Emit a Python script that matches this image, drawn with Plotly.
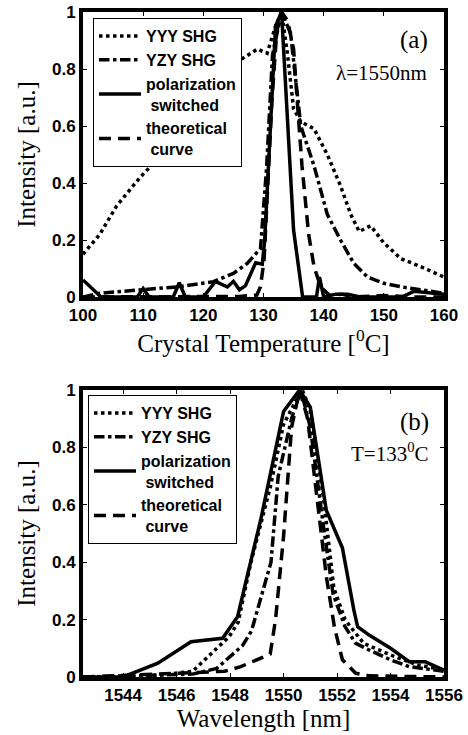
import plotly.graph_objects as go

# ---------------- panel (a): temperature tuning ----------------
t_yyy = [100, 102.8, 105.6, 109.5, 114, 119.5, 126, 129, 130.6, 132, 133, 134, 135, 136.2, 138.4, 140.6, 142.8, 144.5, 145.9, 147.8, 150, 152.8, 156.2, 160]
i_yyy = [0.15, 0.22, 0.32, 0.42, 0.52, 0.66, 0.83, 0.87, 0.855, 0.95, 1.0, 0.85, 0.66, 0.615, 0.59, 0.50, 0.39, 0.29, 0.23, 0.25, 0.19, 0.135, 0.106, 0.07]

t_yzy = [100, 102.8, 109.5, 116, 121.7, 125, 127.3, 129.5, 130.5, 131.5, 133, 134.5, 136.2, 138.4, 140.6, 142.8, 145, 147.3, 150, 152.8, 156.2, 160]
i_yzy = [0.0, 0.013, 0.025, 0.036, 0.054, 0.083, 0.118, 0.17, 0.45, 0.85, 1.0, 0.925, 0.6, 0.46, 0.29, 0.2, 0.118, 0.07, 0.048, 0.036, 0.025, 0.013]

t_pol = [100, 103, 109, 110, 111, 115, 116, 117, 120, 122, 124, 125, 126, 127, 128.7, 129.8, 130.2, 131, 132, 133, 134.2, 135, 136.5, 138.8, 139.3, 140, 142, 144, 146, 153, 155, 160]
i_pol = [0.06, 0, 0, 0.03, 0, 0, 0.05, 0, 0, 0.055, 0.035, 0.055, 0.025, 0.04, 0.12, 0.115, 0.2, 0.55, 0.95, 1.0, 0.55, 0.235, 0, 0, 0.07, 0, 0.01, 0.01, 0, 0, 0.02, 0.01]

t_th = [100, 110, 120, 126, 128.9, 129.5, 130.1, 130.6, 131.4, 132.2, 133, 134, 135, 135.6, 136.4, 137.5, 138.4, 139.5, 141, 143, 145, 150, 155, 160]
i_th = [0, 0, 0, 0.002, 0.007, 0.036, 0.13, 0.34, 0.69, 0.93, 1.0, 0.97, 0.87, 0.69, 0.46, 0.22, 0.106, 0.036, 0.005, 0.01, 0.0, 0.005, 0.0, 0.0]

# ---------------- panel (b): wavelength tuning ----------------
w_yyy = [1542.5, 1545, 1546.6, 1547.96, 1548.3, 1548.78, 1549.5, 1550, 1550.5, 1550.7, 1551, 1551.5, 1551.88, 1552.3, 1552.63, 1553, 1554, 1555, 1556]
b_yyy = [0, 0.003, 0.02, 0.14, 0.19, 0.40, 0.66, 0.88, 0.97, 1.0, 0.93, 0.62, 0.31, 0.2, 0.16, 0.117, 0.077, 0.042, 0.025]

w_yzy = [1542.5, 1546.6, 1547.5, 1548.47, 1548.8, 1549.53, 1549.8, 1550.3, 1550.65, 1551, 1551.5, 1551.85, 1552.3, 1552.7, 1553.2, 1554, 1554.7, 1556]
b_yzy = [0, 0.01, 0.03, 0.11, 0.16, 0.40, 0.70, 0.9, 1.0, 0.87, 0.52, 0.29, 0.175, 0.117, 0.094, 0.06, 0.036, 0.02]

w_pol = [1542.5, 1544, 1545.3, 1546.54, 1547.72, 1548.28, 1549.15, 1549.5, 1550, 1550.6, 1551, 1551.6, 1552.2, 1552.63, 1552.77, 1553.2, 1554.0, 1554.7, 1555.3, 1556]
b_pol = [0, 0, 0.048, 0.123, 0.135, 0.21, 0.55, 0.70, 0.925, 1.0, 0.94, 0.58, 0.45, 0.233, 0.175, 0.146, 0.10, 0.053, 0.053, 0.024]

w_th = [1542.5, 1547.8, 1548.4, 1549.5, 1549.7, 1550.0, 1550.3, 1550.6, 1550.9, 1551.3, 1551.6, 1551.9, 1552.2, 1552.7, 1553.2, 1556]
b_th = [0, 0.02, 0.036, 0.08, 0.2, 0.49, 0.87, 1.0, 0.9, 0.58, 0.35, 0.175, 0.06, 0.013, 0.004, 0.0]

names = ["YYY SHG", "YZY SHG", "polarization<br> switched", "theoretical<br> curve"]
dashes = ["dot", "dashdot", "solid", "12px,7px"]
LW = 3.5

fig = go.Figure()
top = [(t_yyy, i_yyy), (t_yzy, i_yzy), (t_pol, i_pol), (t_th, i_th)]
bot = [(w_yyy, b_yyy), (w_yzy, b_yzy), (w_pol, b_pol), (w_th, b_th)]
for k, (x, y) in enumerate(top):
    fig.add_trace(go.Scatter(x=x, y=y, mode="lines", name=names[k],
                             line=dict(color="black", width=LW, dash=dashes[k]),
                             xaxis="x", yaxis="y", legend="legend"))
for k, (x, y) in enumerate(bot):
    fig.add_trace(go.Scatter(x=x, y=y, mode="lines", name=names[k],
                             line=dict(color="black", width=LW, dash=dashes[k]),
                             xaxis="x2", yaxis="y2", legend="legend2"))

tickfont = dict(family="Liberation Sans", size=17, color="black", weight="bold")
titlefont = dict(family="Liberation Serif", size=25, color="black")
common = dict(showline=True, linewidth=4, linecolor="black", mirror="allticks",
              ticks="inside", ticklen=4, tickwidth=1, tickcolor="black",
              showgrid=False, zeroline=False, tickfont=tickfont, title_font=titlefont,
              automargin=False)

# paper coords: plot x spans 83..444 px, y spans 677 (0) .. 12 (1)
def px(xp):
    return (xp - 83) / 361.0


def py(yp):
    return (677 - yp) / 665.0


legfont = dict(family="Liberation Sans", size=16, color="black", weight="bold")
fig.update_layout(
    width=468, height=735,
    margin=dict(l=83, r=24, t=12, b=58),
    paper_bgcolor="white", plot_bgcolor="white",
    xaxis=dict(domain=[0, 1], range=[100, 160], tickvals=[100, 110, 120, 130, 140, 150, 160],
               anchor="y", title=dict(text="Crystal Temperature [<sup>0</sup>C]", standoff=4), **common),
    yaxis=dict(domain=[py(297), 1.0], range=[0, 1], dtick=0.2, anchor="x",
               title=dict(text="Intensity [a.u.]", standoff=10), **common),
    xaxis2=dict(domain=[0, 1], range=[1542.5, 1556], tickvals=[1544, 1546, 1548, 1550, 1552, 1554, 1556],
                anchor="y2", title=dict(text="Wavelength [nm]", standoff=4), **common),
    yaxis2=dict(domain=[0.0, py(390)], range=[0, 1], dtick=0.2, anchor="x2",
                title=dict(text="Intensity [a.u.]", standoff=10), **common),
    legend=dict(x=px(93), y=py(18), xanchor="left", yanchor="top", bgcolor="white",
                bordercolor="black", borderwidth=1, tracegroupgap=0, font=legfont,
                itemwidth=42),
    legend2=dict(x=px(88), y=py(395), xanchor="left", yanchor="top", bgcolor="white",
                 bordercolor="black", borderwidth=1, tracegroupgap=0, font=legfont,
                 itemwidth=42),
    showlegend=True,
)

ann_font_big = dict(family="Liberation Serif", size=25, color="black")
ann_font = dict(family="Liberation Serif", size=21, color="black")
for txt, xx, yy, f in [("(a)", 414, 40, ann_font_big),
                       ("λ=1550nm", 381, 73, ann_font),
                       ("(b)", 414, 422, ann_font_big),
                       ("T=133<sup>0</sup>C", 390, 452, ann_font)]:
    fig.add_annotation(text=txt, x=px(xx), y=py(yy), xref="paper", yref="paper",
                       xanchor="center", yanchor="middle", showarrow=False, font=f)

fig.write_html("out.html", config={"displayModeBar": False},
               post_script="document.body.style.margin='0';")
